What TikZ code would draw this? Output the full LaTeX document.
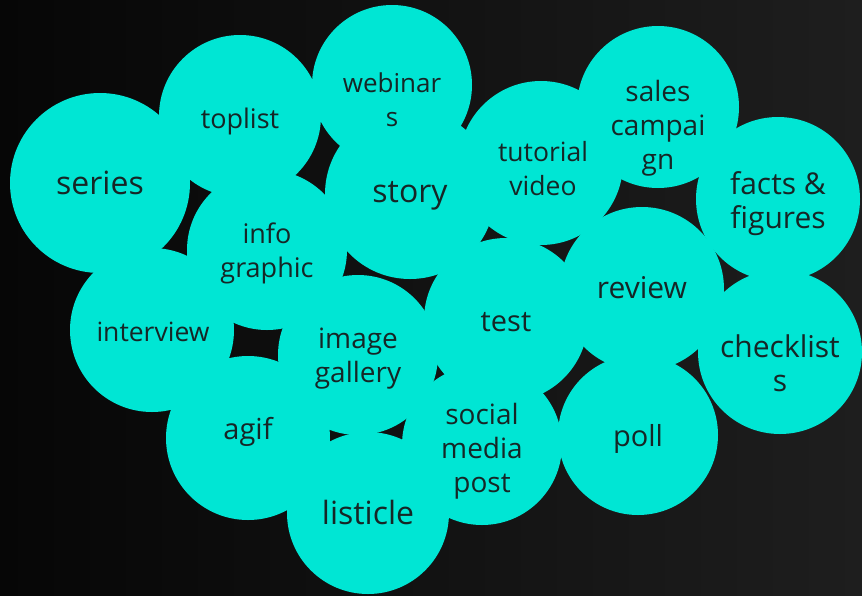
\documentclass[tikz,border=0pt]{standalone}
\usepackage{fontspec}
\setmainfont{Open Sans}
\usepackage{xcolor}
\usepackage{tikz}

\definecolor{bubblecyan}{RGB}{0,230,212}
\definecolor{bubbleink}{RGB}{22,38,38}
\definecolor{boardleft}{RGB}{6,6,6}
\definecolor{boardright}{RGB}{30,30,30}

\begin{document}
\begin{tikzpicture}[
    x=1pt, y=-1pt,
    bubble/.style={circle, fill=bubblecyan, inner sep=0pt, minimum size=#1},
    bubble/.default=164,
    word/.style={text=bubbleink, align=center, inner sep=0pt,
        font=\fontsize{#1}{34}\selectfont},
    word/.default=28
]
% dark board behind the cloud
\fill[left color=boardleft, right color=boardright] (0,0) rectangle (862,595);
\useasboundingbox (0,0) rectangle (862,595);

% the bubbles, top row first
\node[bubble=180] (series) at (100,183) {};
\node[bubble=162] (toplist) at (240,116) {};
\node[bubble=160] (webinars) at (392,85) {};
\node[bubble=170] (story) at (410,194) {};
\node[bubble] (tutorial) at (541,163) {};
\node[bubble=162] (sales) at (658,107) {};
\node[bubble] (facts) at (778,199) {};
\node[bubble=160] (info) at (267,250) {};
\node[bubble] (interview) at (152,330) {};
\node[bubble=160] (gallery) at (358,355) {};
\node[bubble] (test) at (506,320) {};
\node[bubble] (review) at (642,289) {};
\node[bubble] (checklists) at (780,352) {};
\node[bubble] (agif) at (248,438) {};
\node[bubble=160] (social) at (482,445) {};
\node[bubble=160] (poll) at (638,435) {};
\node[bubble=162] (listicle) at (368,513) {};

% words on top, so no bubble hides them
\node[word=32] (series-txt) at (series) {series};
\node[word=27] (toplist-txt) at ([yshift=-5pt]toplist) {toplist};
\node[word=26] (webinars-txt) at ([yshift=-15pt]webinars) {webinar\\s};
\node[word=32] (story-txt) at ([yshift=-2pt]story) {story};
\node[word=26.5] (tutorial-txt) at ([xshift=2pt,yshift=-6pt]tutorial) {tutorial\\video};
\node[word] (sales-txt) at ([yshift=-21pt]sales) {sales\\campai\\gn};
\node[word=30] (facts-txt) at ([yshift=-5pt]facts) {facts \&\\figures};
\node[word=27] (info-txt) at ([yshift=-3pt]info) {info\\graphic};
\node[word=26.5] (interview-txt) at ([xshift=1pt,yshift=-2pt]interview) {interview};
\node[word] (gallery-txt) at ([yshift=-4pt]gallery) {image\\gallery};
\node[word=29] (test-txt) at ([yshift=-2pt]test) {test};
\node[word=30] (review-txt) at ([yshift=1pt]review) {review};
\node[word=30] (checklists-txt) at ([yshift=-11pt]checklists) {checklist\\s};
\node[word=29] (agif-txt) at ([yshift=6pt]agif) {agif};
\node[word] (social-txt) at ([yshift=-6pt]social) {social\\media\\post};
\node[word=29] (poll-txt) at ([yshift=-4pt]poll) {poll};
\node[word=32] (listicle-txt) at ([yshift=1pt]listicle) {listicle};
\end{tikzpicture}
\end{document}
